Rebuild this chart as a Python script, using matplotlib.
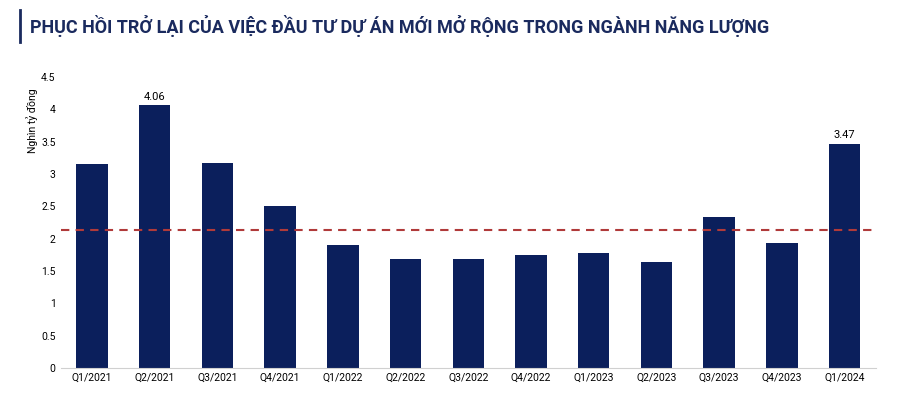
import matplotlib.pyplot as plt
import matplotlib.lines as mlines

plt.rcParams['font.family'] = ['Roboto', 'DejaVu Sans']

quarters = ["Q1/2021", "Q2/2021", "Q3/2021", "Q4/2021", "Q1/2022", "Q2/2022", "Q3/2022",
            "Q4/2022", "Q1/2023", "Q2/2023", "Q3/2023", "Q4/2023", "Q1/2024"]
values = [3.15, 4.06, 3.17, 2.50, 1.90, 1.69, 1.69, 1.75, 1.78, 1.64, 2.33, 1.93, 3.47]
average = 2.13
labeled = {1: "4.06", 12: "3.47"}

navy = "#0b1f5c"

fig = plt.figure(figsize=(9, 4.03), dpi=100)
ax = fig.add_axes([0.0673, 0.087, 0.906, 0.722])

ax.bar(range(len(quarters)), values, width=0.5, color=navy)
ax.axhline(average, color="#b03a3a", linestyle=(0, (4, 3)), linewidth=1.5)

for i, txt in labeled.items():
    ax.text(i, values[i] + 0.06, txt, ha="center", va="bottom", fontsize=8)

ax.set_xlim(-0.5, len(quarters) - 0.5)
ax.set_ylim(0, 4.5)
ax.set_yticks([0, 0.5, 1, 1.5, 2, 2.5, 3, 3.5, 4, 4.5])
ax.set_yticklabels(["0", "0.5", "1", "1.5", "2", "2.5", "3", "3.5", "4", "4.5"])
ax.set_xticks(range(len(quarters)))
ax.set_xticklabels(quarters)
ax.tick_params(axis="both", labelsize=7.5, length=0)
for s in ["top", "right", "left"]:
    ax.spines[s].set_visible(False)
ax.spines["bottom"].set_color("#d0d0d0")
ax.set_ylabel("Nghìn tỷ đồng", fontsize=7.5)
ax.yaxis.set_label_coords(-0.028, 0.85)

fig.text(0.033, 0.935, "PHỤC HỒI TRỞ LẠI CỦA VIỆC ĐẦU TƯ DỰ ÁN MỚI MỞ RỘNG TRONG NGÀNH NĂNG LƯỢNG",
         fontsize=13, fontweight="bold", color="#1a2a5e", va="center")
fig.add_artist(mlines.Line2D([0.022, 0.022], [0.895, 0.975], color="#1a2a5e", linewidth=2))

fig.savefig("out.png", dpi=100)
